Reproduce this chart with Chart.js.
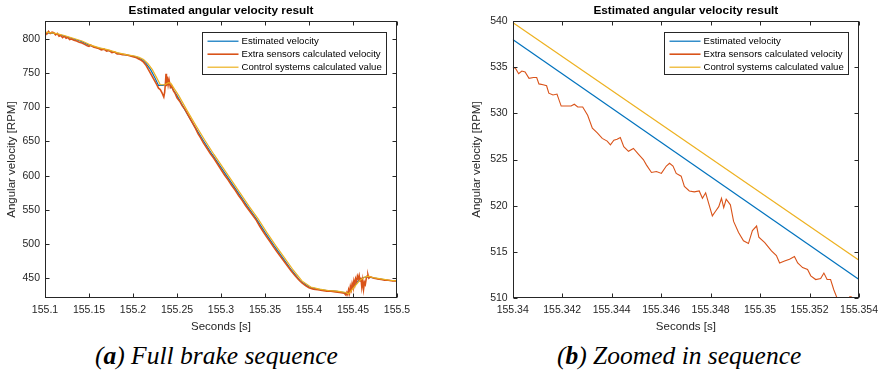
<!DOCTYPE html>
<html lang="en">
<head>
<meta charset="UTF-8">
<title>Estimated angular velocity result</title>
<script src="https://cdn.jsdelivr.net/npm/chart.js"></script>
<style>
  body { margin: 0; background: #fff; }
  #wrap { position: relative; width: 884px; height: 375px; overflow: hidden; }
  #wrap canvas { position: absolute; top: 0; }
  .cap { position: absolute; top: 341px; line-height: 30px; font-family: 'Liberation Serif', serif; font-style: italic; font-size: 25.5px; white-space: nowrap; color: #000; }
</style>
</head>
<body>
<div id="wrap">
  <canvas id="chartA" width="442" height="340" style="left:0"></canvas>
  <canvas id="chartB" width="442" height="340" style="left:442px"></canvas>
  <div class="cap" style="left:95px">(<b>a</b>) Full brake sequence</div>
  <div class="cap" style="left:557px">(<b>b</b>) Zoomed in sequence</div>
</div>
<script>
const seriesNames = ['Estimated velocity', 'Extra sensors calculated velocity', 'Control systems calculated value'];
const seriesColors = ['#0072BD', '#D95319', '#EDB120'];

// (a) full brake sequence
const fullXTicks = [155.1, 155.15, 155.2, 155.25, 155.3, 155.35, 155.4, 155.45, 155.5];
const fullYTicks = [450, 500, 550, 600, 650, 700, 750, 800];

const fullEst = [
  [155.100,809],[155.110,808],[155.120,805],[155.130,801],[155.140,797],[155.150,791],[155.160,787],
  [155.170,784],[155.180,780],[155.190,777],[155.200,775],[155.205,773],[155.210,770],[155.215,764],
  [155.220,755],[155.225,743],[155.229,732],[155.234,732],[155.239,734],[155.241,735],[155.245,727],
  [155.250,717],[155.260,694],[155.270,672],[155.280,651],[155.290,631],[155.300,612],[155.310,593],
  [155.320,574],[155.330,555],[155.340,537],[155.350,517],[155.360,498],[155.370,480],[155.380,462],
  [155.390,446],[155.400,437],[155.410,434],[155.420,432],[155.430,431],[155.440,429],[155.443,427],
  [155.450,437],[155.456,446],[155.462,451],[155.466,452],[155.470,451],[155.480,449],[155.490,447],
  [155.500,446]
];

const fullSensor = [
  [155.100,810],[155.102,807],[155.104,811],[155.106,808],[155.108,810],[155.110,809],[155.112,806],
  [155.114,808],[155.116,804],[155.118,805],[155.120,802],[155.122,804],[155.124,801],[155.126,802],
  [155.128,799],[155.130,800],[155.133,798],[155.136,797],[155.139,795],[155.142,794],[155.145,792],
  [155.148,790],[155.150,789],[155.152,791],[155.155,788],[155.158,787],[155.161,786],[155.164,784],
  [155.167,785],[155.170,782],[155.173,783],[155.176,780],[155.179,781],[155.182,778],[155.185,778],
  [155.188,777],[155.191,777],[155.194,776],[155.197,775],[155.200,774],[155.203,773],[155.206,771],
  [155.209,769],[155.212,766],[155.215,761],[155.218,754],[155.221,747],[155.224,740],[155.227,733],
  [155.229,728],[155.231,726],[155.233,721],[155.235,715],[155.236,722],[155.237,738],[155.2375,749],
  [155.238,731],[155.239,745],[155.240,733],[155.241,740],[155.2425,729],[155.244,731],[155.246,724],
  [155.248,720],[155.250,714],[155.253,709],[155.256,702],[155.259,697],[155.262,690],[155.265,683],
  [155.268,676],[155.271,669],[155.274,661],[155.277,655],[155.280,648],[155.284,640],[155.288,632],
  [155.292,625],[155.296,617],[155.300,609],[155.304,601],[155.308,594],[155.312,586],[155.316,579],
  [155.320,571],[155.324,564],[155.328,556],[155.332,549],[155.336,542],[155.340,535],[155.344,526],
  [155.348,518],[155.352,510],[155.356,503],[155.360,495],[155.364,488],[155.368,481],[155.372,474],
  [155.376,467],[155.380,460],[155.384,454],[155.388,448],[155.392,443],[155.396,439],[155.400,436],
  [155.405,434],[155.410,433],[155.415,432],[155.420,431],[155.425,431],[155.430,430],[155.435,429],
  [155.440,428],[155.442,425],[155.443,429],[155.444,426],[155.445,433],[155.446,428],[155.447,438],
  [155.448,433],[155.449,442],[155.450,437],[155.451,446],[155.452,440],[155.453,449],[155.454,445],
  [155.455,453],[155.456,449],[155.457,454],[155.458,446],[155.459,451],[155.460,437],[155.461,447],
  [155.462,434],[155.463,444],[155.464,441],[155.465,449],[155.466,453],[155.467,455],[155.468,450],
  [155.470,452],[155.474,450],[155.478,449],[155.482,448],[155.486,447],[155.490,447],[155.495,446],
  [155.500,446]
];

const fullCtrl = [
  [155.100,810],[155.112,808],[155.122,805],[155.132,801],[155.142,797],[155.152,791],[155.162,787],
  [155.172,784],[155.182,780],[155.192,777],[155.202,775],[155.207,773],[155.212,770],[155.217,764],
  [155.222,755],[155.227,743],[155.231,733],[155.236,733],[155.2405,736],[155.243,735],[155.247,727],
  [155.252,717],[155.262,694],[155.272,672],[155.282,651],[155.292,631],[155.302,612],[155.312,593],
  [155.322,574],[155.332,555],[155.342,537],[155.352,517],[155.362,498],[155.372,480],[155.382,462],
  [155.392,446],[155.402,437],[155.412,434],[155.422,432],[155.432,431],[155.442,429],[155.445,427],
  [155.452,438],[155.458,447],[155.464,452],[155.468,453],[155.472,451],[155.482,449],[155.492,447],
  [155.500,446]
];

// (b) zoomed in sequence
const zoomXTicks = [155.34, 155.342, 155.344, 155.346, 155.348, 155.35, 155.352, 155.354];
const zoomYTicks = [510, 515, 520, 525, 530, 535, 540];

const zoomEst = [[155.340,538.0],[155.354,512.0]];
const zoomCtrl = [[155.340,539.86],[155.354,514.1]];
const zoomSensor = [
  [155.34000,535.0],[155.34011,534.9],[155.34024,534.3],[155.34037,534.6],[155.34050,534.5],
  [155.34066,533.8],[155.34084,533.9],[155.34097,533.9],[155.34106,533.2],[155.34123,533.1],
  [155.34137,533.0],[155.34146,532.2],[155.34163,532.0],[155.34179,532.1],[155.34196,530.8],
  [155.34216,530.8],[155.34236,530.8],[155.34249,531.0],[155.34263,530.7],[155.34283,530.7],
  [155.34303,529.8],[155.34322,528.4],[155.34342,527.9],[155.34362,527.3],[155.34382,527.0],
  [155.34395,526.6],[155.34409,527.1],[155.34422,527.2],[155.34435,527.4],[155.34449,526.4],
  [155.34468,525.9],[155.34488,526.2],[155.34508,525.6],[155.34528,525.0],[155.34541,524.4],
  [155.34561,523.6],[155.34581,523.7],[155.34601,523.5],[155.34621,524.3],[155.34634,524.6],
  [155.34648,524.3],[155.34661,523.5],[155.34681,523.2],[155.34694,522.1],[155.34714,521.6],
  [155.34734,521.5],[155.34754,521.6],[155.34767,520.8],[155.34780,521.4],[155.34794,520.1],
  [155.34807,518.9],[155.34820,519.4],[155.34833,519.9],[155.34844,520.8],[155.34853,519.8],
  [155.34863,520.7],[155.34880,520.1],[155.34893,518.3],[155.34913,517.1],[155.34933,516.2],
  [155.34953,515.9],[155.34969,517.3],[155.34986,517.8],[155.34995,516.6],[155.35019,516.0],
  [155.35046,515.1],[155.35066,514.6],[155.35079,513.8],[155.35099,514.0],[155.35119,514.2],
  [155.35139,514.5],[155.35152,513.8],[155.35172,513.3],[155.35192,513.1],[155.35205,512.4],
  [155.35225,512.0],[155.35245,512.1],[155.35258,512.7],[155.35271,512.0],[155.35285,512.0],
  [155.35298,510.9],[155.35311,510.0],[155.35324,509.2],[155.35344,508.6],[155.35358,509.5],
  [155.35363,510.15],[155.35370,510.1],[155.35378,509.6],[155.35400,509.0]
];

const FONT = "'Liberation Sans', Arial, sans-serif";
const INK = '#262626';

const framePlugin = {
  id: 'frame',
  afterDatasetsDraw(chart) {
    const { ctx, chartArea: a, scales: { x, y } } = chart;
    const L = Math.round(a.left) + 0.5, R = Math.round(a.right) - 0.5;
    const T = Math.round(a.top) + 0.5, B = Math.round(a.bottom) - 0.5;
    const tl = 4;
    ctx.save();
    ctx.strokeStyle = INK;
    ctx.lineWidth = 1;
    ctx.beginPath();
    x.ticks.forEach(t => {
      const px = Math.round(x.getPixelForValue(t.value)) + 0.5;
      ctx.moveTo(px, B); ctx.lineTo(px, B - tl);
      ctx.moveTo(px, T); ctx.lineTo(px, T + tl);
    });
    y.ticks.forEach(t => {
      const py = Math.round(y.getPixelForValue(t.value)) + 0.5;
      ctx.moveTo(L, py); ctx.lineTo(L + tl, py);
      ctx.moveTo(R, py); ctx.lineTo(R - tl, py);
    });
    ctx.stroke();
    ctx.strokeRect(L, T, R - L, B - T);
    ctx.restore();
  }
};

const boxLegendPlugin = {
  id: 'boxLegend',
  afterDraw(chart) {
    const { ctx, chartArea: a } = chart;
    const sets = chart.data.datasets;
    ctx.save();
    ctx.font = '9.6px ' + FONT;
    const tw = Math.max(...sets.map(d => ctx.measureText(d.label).width));
    const w = Math.round(39 + tw + 5), h = 42;
    const bx = Math.round(a.right - 11 - w) + 0.5, by = Math.round(a.top + 11) + 0.5;
    ctx.fillStyle = '#fff';
    ctx.fillRect(bx, by, w, h);
    ctx.strokeStyle = INK;
    ctx.lineWidth = 1;
    ctx.strokeRect(bx, by, w, h);
    ctx.textBaseline = 'middle';
    ctx.textAlign = 'left';
    sets.forEach((d, i) => {
      const ry = by + 8.7 + i * 13;
      ctx.strokeStyle = d.borderColor;
      ctx.lineWidth = d.legendWidth || d.borderWidth;
      ctx.beginPath();
      ctx.moveTo(bx + 5, ry); ctx.lineTo(bx + 36, ry);
      ctx.stroke();
      ctx.fillStyle = '#000';
      ctx.fillText(d.label, bx + 39, ry);
    });
    ctx.restore();
  }
};

function toXY(arr) {
  return arr.map(p => ({ x: p[0], y: p[1] }));
}

function makeChart(id, est, sensor, ctrl, xr, yr, xTicks, yTicks, padL, yW, padR, sensorW) {
  const ds = [
    { label: seriesNames[0], data: toXY(est), borderColor: seriesColors[0], borderWidth: 1.2, order: 3 },
    { label: seriesNames[1], data: toXY(sensor), borderColor: seriesColors[1], borderWidth: sensorW, legendWidth: 1.6, order: 2 },
    { label: seriesNames[2], data: toXY(ctrl), borderColor: seriesColors[2], borderWidth: 1.2, order: 1 }
  ];
  ds.forEach(d => { d.pointRadius = 0; d.tension = 0; d.fill = false; });
  return new Chart(document.getElementById(id), {
    type: 'line',
    data: { datasets: ds },
    options: {
      responsive: false,
      animation: false,
      devicePixelRatio: 1,
      layout: { padding: { left: padL, right: padR, top: 0, bottom: 6 } },
      plugins: {
        legend: { display: false },
        tooltip: { enabled: false },
        title: {
          display: true,
          fullSize: false,
          text: 'Estimated angular velocity result',
          color: '#000',
          font: { family: FONT, size: 11.8, weight: 'bold' },
          padding: { top: 4, bottom: 3 }
        }
      },
      scales: {
        x: {
          type: 'linear',
          min: xr[0], max: xr[1],
          afterBuildTicks: s => { s.ticks = xTicks.map(v => ({ value: v })); },
          afterFit: s => { s.height = 36; },
          grid: { display: false, drawTicks: false },
          border: { display: false },
          ticks: {
            autoSkip: false, maxRotation: 0, padding: 6,
            color: INK, font: { family: FONT, size: 10.5 },
            callback: v => String(v)
          },
          title: {
            display: true, text: 'Seconds [s]', color: INK,
            font: { family: FONT, size: 11.5 }, padding: { top: 0, bottom: 0 }
          }
        },
        y: {
          type: 'linear',
          min: yr[0], max: yr[1],
          afterBuildTicks: s => { s.ticks = yTicks.map(v => ({ value: v })); },
          afterFit: s => { s.width = yW; },
          grid: { display: false, drawTicks: false },
          border: { display: false },
          ticks: {
            autoSkip: false, padding: 5,
            color: INK, font: { family: FONT, size: 10.5 },
            callback: v => String(v)
          },
          title: {
            display: true, text: 'Angular velocity [RPM]', color: INK,
            font: { family: FONT, size: 11.5 }, padding: { top: 2, bottom: 0 }
          }
        }
      }
    },
    plugins: [framePlugin, boxLegendPlugin]
  });
}

makeChart('chartA', fullEst, fullSensor, fullCtrl, [155.1, 155.5], [421, 826],
  fullXTicks, fullYTicks, 3, 42, 45, 1.6);
makeChart('chartB', zoomEst, zoomSensor, zoomCtrl, [155.34, 155.354], [510, 540],
  zoomXTicks, zoomYTicks, 26, 44.7, 19.7, 1.1);
</script>
</body>
</html>
